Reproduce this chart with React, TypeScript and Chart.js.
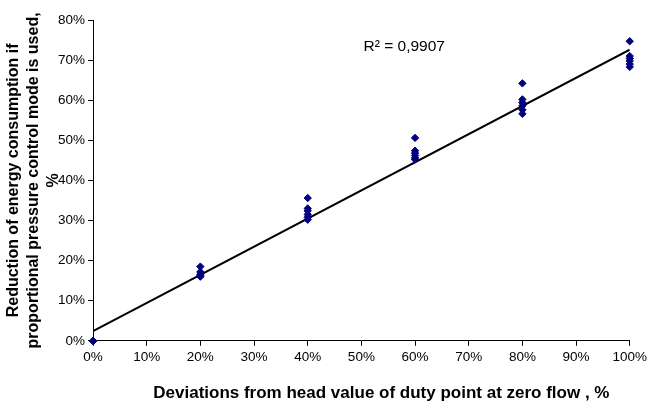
import React, { useEffect, useRef } from "react";
import { Chart, registerables } from "chart.js";

Chart.register(...registerables);

const xGroups = [0, 20, 40, 60, 80, 100];
const yAt0 = [0, 0, 0, 0, 0];
const yAt20 = [18.5, 17.2, 16.6, 16.2, 16.0];
const yAt40 = [35.6, 33.0, 32.4, 31.5, 30.8, 30.2];
const yAt60 = [50.6, 47.4, 46.8, 46.2, 45.6, 45.2];
const yAt80 = [64.2, 60.2, 59.4, 58.6, 57.6, 56.6];
const yAt100 = [74.7, 71.0, 70.4, 69.8, 69.0, 68.3];
const trendX = [0, 100];
const trendY = [2.4, 72.6];
const r2Label = "R² = 0,9907";
const xTitle = "Deviations from head value of duty point at zero flow , %";

const allY = [yAt0, yAt20, yAt40, yAt60, yAt80, yAt100];

export default function App() {
  const ref = useRef<HTMLCanvasElement | null>(null);
  useEffect(() => {
    if (!ref.current) return;
    const pts: { x: number; y: number }[] = [];
    xGroups.forEach((x, i) => allY[i].forEach((y) => pts.push({ x, y })));
    const trend = trendX.map((x, i) => ({ x, y: trendY[i] }));
    const font = "'Liberation Sans', Arial, sans-serif";
    const textPlugin = {
      id: "texts",
      afterDatasetsDraw(chart: any) {
        const { ctx, scales, chartArea } = chart;
        ctx.save();
        ctx.font = `15.5px ${font}`;
        ctx.fillStyle = "#000";
        ctx.textBaseline = "middle";
        ctx.fillText(r2Label, scales.x.getPixelForValue(50.4), scales.y.getPixelForValue(73.3));
        ctx.font = `bold 17px ${font}`;
        ctx.textAlign = "center";
        ctx.fillText(xTitle, (chartArea.left + chartArea.right) / 2 + 20, chart.height - 8);
        ctx.restore();
      },
    };
    const chart = new Chart(ref.current, {
      type: "scatter",
      data: {
        datasets: [
          {
            data: trend,
            showLine: true,
            borderColor: "#000",
            borderWidth: 2,
            pointRadius: 0,
            order: 2,
          },
          {
            data: pts,
            pointStyle: "rectRot",
            pointRadius: 3.7,
            backgroundColor: "#000080",
            borderColor: "#000080",
            borderWidth: 1,
            clip: false,
            order: 1,
          },
        ],
      },
      options: {
        animation: false,
        responsive: false,
        layout: { padding: { top: 20, right: 2, left: 4, bottom: 33 } },
        plugins: { legend: { display: false }, tooltip: { enabled: false } },
        scales: {
          x: {
            type: "linear",
            min: 0,
            max: 100,
            ticks: {
              stepSize: 10,
              color: "#000",
              font: { family: font, size: 13.5 },
              callback: (v: any) => v + "%",
              maxRotation: 0,
            },
            grid: { drawOnChartArea: false, drawTicks: true, tickLength: 5, color: "#000" },
            border: { display: true, color: "#000", width: 1 },
          },
          y: {
            min: 0,
            max: 80,
            ticks: {
              stepSize: 10,
              color: "#000",
              font: { family: font, size: 13.5 },
              callback: (v: any) => v + "%",
            },
            grid: { drawOnChartArea: false, drawTicks: true, tickLength: 5, color: "#000" },
            border: { display: true, color: "#000", width: 1 },
            title: {
              display: true,
              text: ["Reduction of energy consumption if", "proportional pressure control mode is used,", "%"],
              color: "#000",
              font: { family: font, size: 16, weight: "bold", lineHeight: 1.25 },
              padding: { top: 0, bottom: -9 },
            },
          },
        },
      },
      plugins: [textPlugin],
    });
    return () => chart.destroy();
  }, []);
  return (
    <div style={{ position: "fixed", left: 0, top: 0, width: 650, height: 401, background: "#fff" }}>
      <canvas ref={ref} width={650} height={401} />
    </div>
  );
}
